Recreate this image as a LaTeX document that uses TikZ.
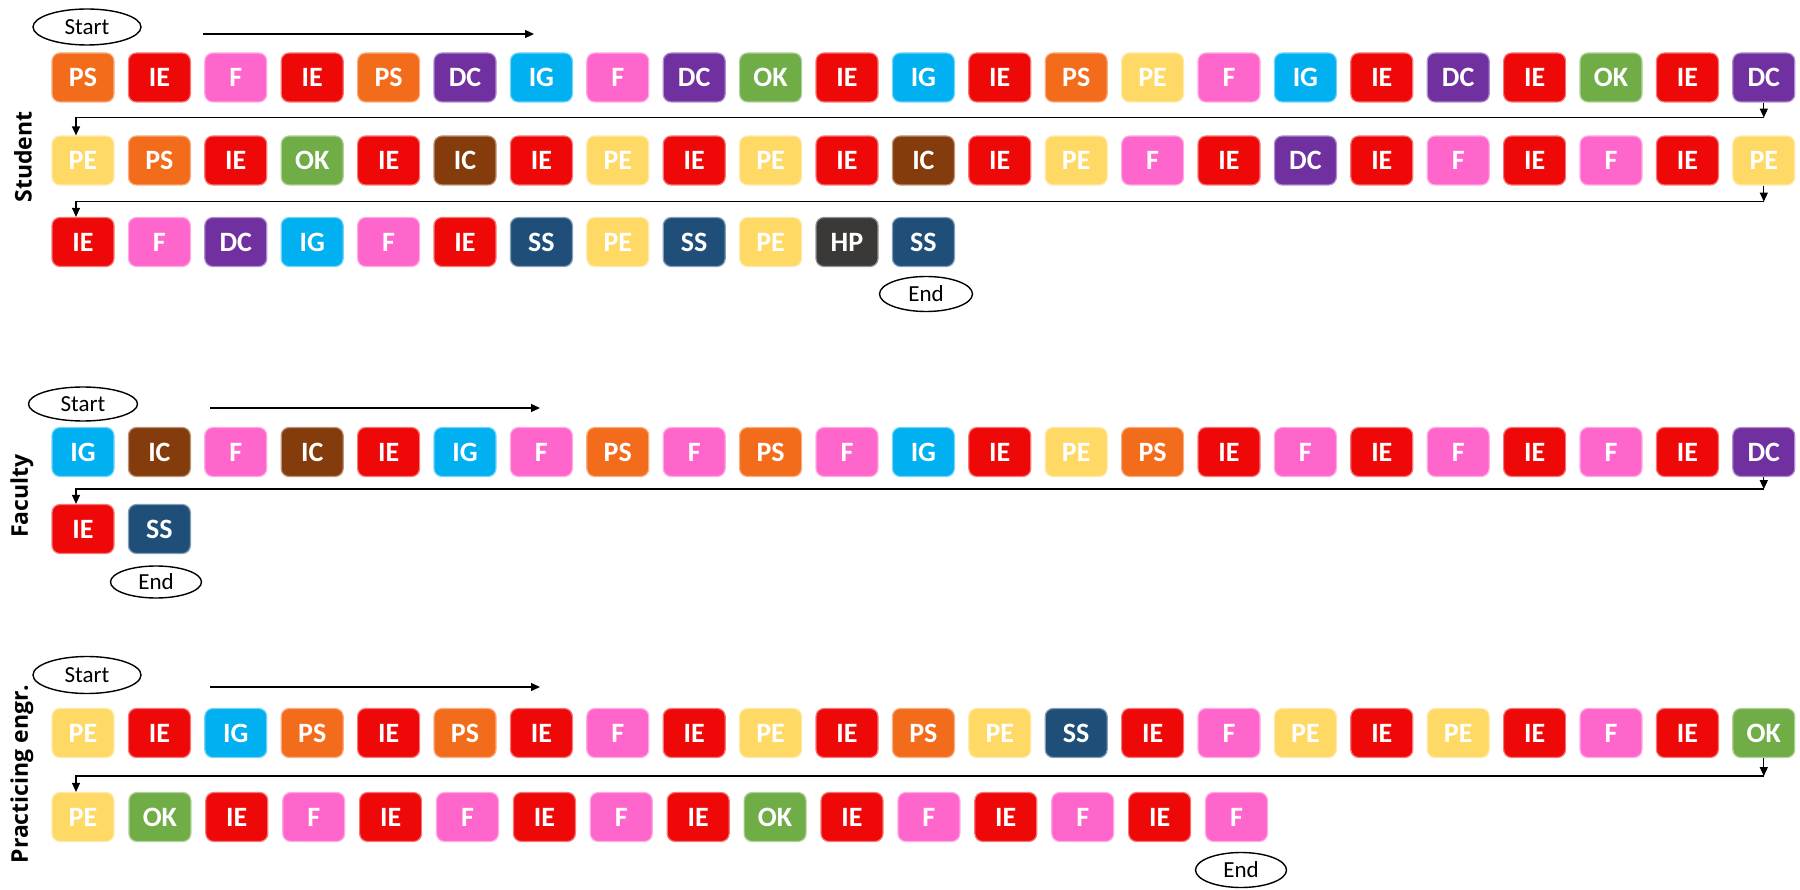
\documentclass[tikz,border=0pt]{standalone}
\usepackage{fontspec}
\setmainfont{Carlito}
\newfontfamily\rowfont{Open Sans}
\usetikzlibrary{arrows.meta, shapes.geometric}
\definecolor{cPS}{RGB}{242,108,28}
\definecolor{cIE}{RGB}{238,8,8}
\definecolor{cF}{RGB}{255,102,204}
\definecolor{cDC}{RGB}{112,48,160}
\definecolor{cIG}{RGB}{0,176,240}
\definecolor{cOK}{RGB}{112,173,71}
\definecolor{cPE}{RGB}{255,217,102}
\definecolor{cIC}{RGB}{132,60,12}
\definecolor{cSS}{RGB}{31,78,121}
\definecolor{cHP}{RGB}{59,56,56}

\tikzset{
  tag/.style={rounded corners=8pt, minimum width=62pt, minimum height=49pt,
    inner sep=0pt, text=white, line width=1.2pt,
    font=\fontsize{28}{28}\selectfont\bfseries},
  terminal/.style={ellipse, draw, line width=1.4pt, inner sep=0pt,
    font=\fontsize{23}{23}\selectfont},
  flow/.style={-{Triangle[length=9pt,width=8pt]}, line width=1.3pt},
  rowlabel/.style={rotate=90, font=\rowfont\bfseries\fontsize{23}{23}\selectfont}
}

\begin{document}
\begin{tikzpicture}[x=1pt, y=1pt]
  \useasboundingbox (0,0) rectangle (1800,-890);

  % Student
  \node[rowlabel] (lstudent) at (23,-157) {Student};
  \node[terminal, minimum width=108pt, minimum height=36pt] (sStart) at (87,-27) {Start};
  \coordinate (sA) at (203,-34);
  \coordinate (sB) at (534,-34);
  \draw[flow] (sA) -- (sB);
  \foreach \lab [count=\i] in {PS,IE,F,IE,PS,DC,IG,F,DC,OK,IE,IG,IE,PS,PE,F,IG,IE,DC,IE,OK,IE,DC}
    \node[tag, fill=c\lab, draw=c\lab!55!white] (s1-\i) at ({83+(\i-1)*76.4},-77.5) {\lab};
  \foreach \lab [count=\i] in {PE,PS,IE,OK,IE,IC,IE,PE,IE,PE,IE,IC,IE,PE,F,IE,DC,IE,F,IE,F,IE,PE}
    \node[tag, fill=c\lab, draw=c\lab!55!white] (s2-\i) at ({83+(\i-1)*76.4},-160.5) {\lab};
  \foreach \lab [count=\i] in {IE,F,DC,IG,F,IE,SS,PE,SS,PE,HP,SS}
    \node[tag, fill=c\lab, draw=c\lab!55!white] (s3-\i) at ({83+(\i-1)*76.4},-242) {\lab};
  \draw[flow] (s1-23.south) -- ++(0,-15) coordinate (sT1);
  \draw[flow] (sT1) -| ([xshift=-7pt]s2-1.north);
  \draw[flow] (s2-23.south) -- ++(0,-16) coordinate (sT2);
  \draw[flow] (sT2) -| ([xshift=-7pt]s3-1.north);
  \node[terminal, minimum width=93pt, minimum height=35pt] (sEnd) at (926,-294) {End};

  % Faculty
  \node[rowlabel] (lfaculty) at (22,-496) {Faculty};
  \node[terminal, minimum width=109pt, minimum height=34pt] (fStart) at (83,-404) {Start};
  \coordinate (fA) at (210,-408);
  \coordinate (fB) at (540,-408);
  \draw[flow] (fA) -- (fB);
  \foreach \lab [count=\i] in {IG,IC,F,IC,IE,IG,F,PS,F,PS,F,IG,IE,PE,PS,IE,F,IE,F,IE,F,IE,DC}
    \node[tag, fill=c\lab, draw=c\lab!55!white] (f1-\i) at ({83+(\i-1)*76.4},-452) {\lab};
  \foreach \lab [count=\i] in {IE,SS}
    \node[tag, fill=c\lab, draw=c\lab!55!white] (f2-\i) at ({83+(\i-1)*76.4},-529) {\lab};
  \draw[flow] (f1-23.south) -- ++(0,-12) coordinate (fT1);
  \draw[flow] (fT1) -| ([xshift=-7pt]f2-1.north);
  \node[terminal, minimum width=91pt, minimum height=32pt] (fEnd) at (156,-582) {End};

  % Practicing engr.
  \node[rowlabel] (lpract) at (22,-774) {Practicing engr.};
  \node[terminal, minimum width=108pt, minimum height=37pt] (pStart) at (87,-675) {Start};
  \coordinate (pA) at (210,-687);
  \coordinate (pB) at (540,-687);
  \draw[flow] (pA) -- (pB);
  \foreach \lab [count=\i] in {PE,IE,IG,PS,IE,PS,IE,F,IE,PE,IE,PS,PE,SS,IE,F,PE,IE,PE,IE,F,IE,OK}
    \node[tag, fill=c\lab, draw=c\lab!55!white] (p1-\i) at ({83+(\i-1)*76.4},-733) {\lab};
  \foreach \lab [count=\i] in {PE,OK,IE,F,IE,F,IE,F,IE,OK,IE,F,IE,F,IE,F}
    \node[tag, fill=c\lab, draw=c\lab!55!white] (p2-\i) at ({83+(\i-1)*76.9},-817) {\lab};
  \draw[flow] (p1-23.south) -- ++(0,-18) coordinate (pT1);
  \draw[flow] (pT1) -| ([xshift=-7pt]p2-1.north);
  \node[terminal, minimum width=91pt, minimum height=35pt] (pEnd) at (1241,-870) {End};
\end{tikzpicture}
\end{document}
